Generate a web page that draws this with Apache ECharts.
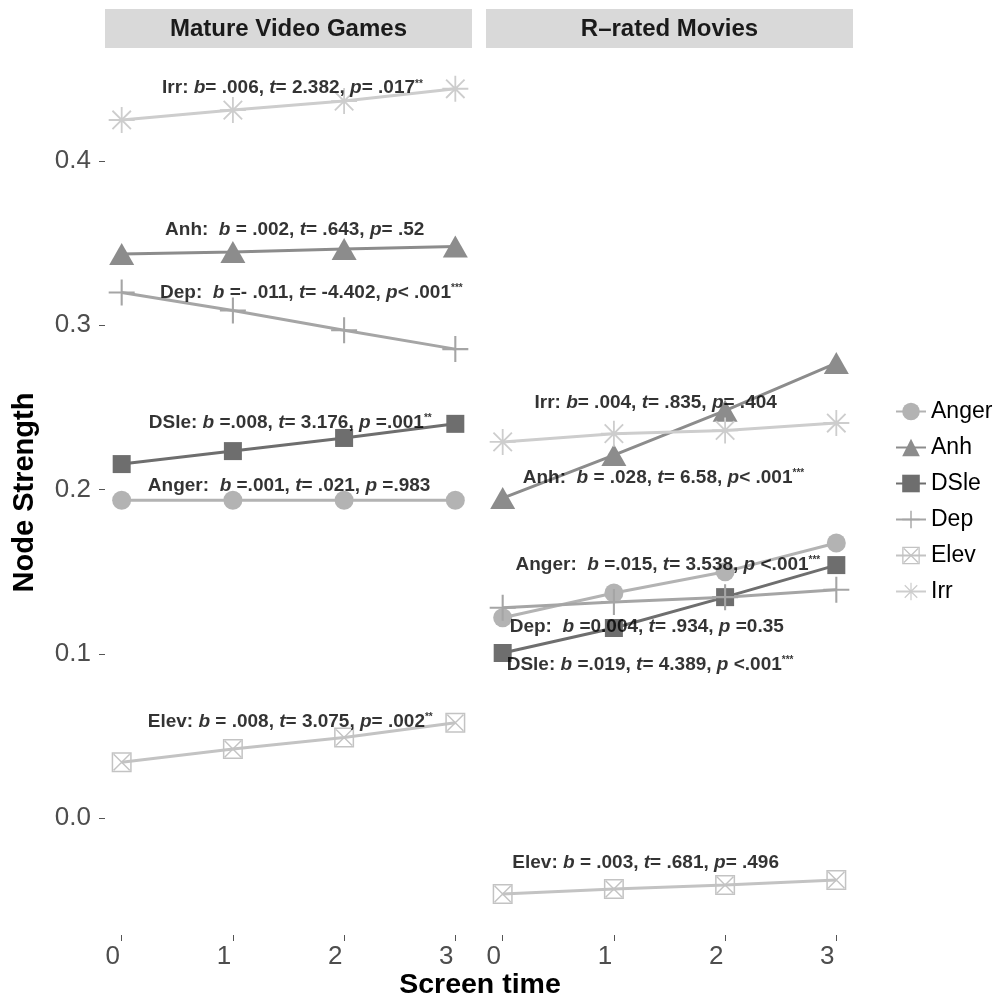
<!DOCTYPE html>
<html>
<head>
<meta charset="utf-8">
<script src="https://cdn.jsdelivr.net/npm/echarts@6/dist/echarts.min.js"></script>
<style>
  html, body { margin: 0; padding: 0; background: #fff; }
  #chart { width: 1008px; height: 999px; }
</style>
</head>
<body>
<div id="chart"></div>
<script>
// screen time levels (x) and node names
const screenTime = [0, 1, 2, 3];
const nodes = ["Anger", "Anh", "DSle", "Dep", "Elev", "Irr"];
const yTicks = [0, 0.1, 0.2, 0.3, 0.4];

// Mature Video Games panel
const gamesAnger = [0.1935, 0.1935, 0.1935, 0.1935];
const gamesAnh = [0.3434, 0.3446, 0.3464, 0.348];
const gamesDSle = [0.2155, 0.2234, 0.2314, 0.240];
const gamesDep = [0.320, 0.309, 0.297, 0.2855];
const gamesElev = [0.034, 0.042, 0.049, 0.058];
const gamesIrr = [0.425, 0.431, 0.4365, 0.444];

// R-rated Movies panel
const moviesAnger = [0.122, 0.137, 0.150, 0.1675];
const moviesAnh = [0.1948, 0.221, 0.248, 0.277];
const moviesDSle = [0.1005, 0.1157, 0.1345, 0.154];
const moviesDep = [0.128, 0.1315, 0.1345, 0.139];
const moviesElev = [-0.0463, -0.0432, -0.0408, -0.0377];
const moviesIrr = [0.229, 0.234, 0.236, 0.2405];

// regression notes (text) and where they sit, in data units
const gamesNotes = [
  "Irr: {i|b}= .006, {i|t}= 2.382, {i|p}= .017{s|**}",
  "Anh:  {i|b} = .002, {i|t}= .643, {i|p}= .52",
  "Dep:  {i|b} =- .011, {i|t}= -4.402, {i|p}< .001{s|***}",
  "DSle: {i|b} =.008, {i|t}= 3.176, {i|p} =.001{s|**}",
  "Anger:  {i|b} =.001, {i|t}= .021, {i|p} =.983",
  "Elev: {i|b} = .008, {i|t}= 3.075, {i|p}= .002{s|**}"
];
const gamesNoteX = [1.54, 1.56, 1.71, 1.52, 1.51, 1.52];
const gamesNoteY = [0.444, 0.358, 0.3197, 0.2405, 0.2021, 0.0584];

const moviesNotes = [
  "Irr: {i|b}= .004, {i|t}= .835, {i|p}= .404",
  "Anh:  {i|b} = .028, {i|t}= 6.58, {i|p}< .001{s|***}",
  "Anger:  {i|b} =.015, {i|t}= 3.538, {i|p} <.001{s|***}",
  "Dep:  {i|b} =0.004, {i|t}= .934, {i|p} =0.35",
  "DSle: {i|b} =.019, {i|t}= 4.389, {i|p} <.001{s|***}",
  "Elev: {i|b} = .003, {i|t}= .681, {i|p}= .496"
];
const moviesNoteX = [1.38, 1.45, 1.49, 1.30, 1.33, 1.29];
const moviesNoteY = [0.2527, 0.207, 0.154, 0.1163, 0.0932, -0.0274];

const FONT = "Liberation Sans";

// marker look per node
const style = {
  Anger: { color: "#b3b3b3", symbol: "circle", size: 19 },
  Anh: { color: "#8c8c8c", symbol: "triangle", size: [25, 22] },
  DSle: { color: "#6e6e6e", symbol: "rect", size: 18 },
  Dep: {
    color: "#a5a5a5",
    symbol: "path://M9.2,0 L10.8,0 L10.8,9.2 L20,9.2 L20,10.8 L10.8,10.8 L10.8,20 L9.2,20 L9.2,10.8 L0,10.8 L0,9.2 L9.2,9.2 Z",
    size: 26
  },
  Elev: {
    color: "#c3c3c3",
    symbol: "path://M0,0 L20,0 L20,20 L0,20 Z M1.5,1.5 L1.5,18.5 L18.5,18.5 L18.5,1.5 Z M1.5,2.5 L2.5,1.5 L18.5,17.5 L17.5,18.5 Z M17.5,1.5 L18.5,2.5 L2.5,18.5 L1.5,17.5 Z",
    size: 20
  },
  Irr: {
    color: "#cdcdcd",
    symbol: "path://M9.3,0 L10.7,0 L10.7,9.3 L20,9.3 L20,10.7 L10.7,10.7 L10.7,20 L9.3,20 L9.3,10.7 L0,10.7 L0,9.3 L9.3,9.3 Z M2.4,3.4 L3.4,2.4 L17.6,16.6 L16.6,17.6 Z M16.6,2.4 L17.6,3.4 L3.4,17.6 L2.4,16.6 Z",
    size: 26
  }
};

const panels = [
  { Anger: gamesAnger, Anh: gamesAnh, DSle: gamesDSle, Dep: gamesDep, Elev: gamesElev, Irr: gamesIrr },
  { Anger: moviesAnger, Anh: moviesAnh, DSle: moviesDSle, Dep: moviesDep, Elev: moviesElev, Irr: moviesIrr }
];
const notes = [
  { text: gamesNotes, x: gamesNoteX, y: gamesNoteY },
  { text: moviesNotes, x: moviesNoteX, y: moviesNoteY }
];

const series = [];
panels.forEach(function (panel, p) {
  nodes.forEach(function (name) {
    const s = style[name];
    series.push({
      name: name,
      type: "line",
      xAxisIndex: p,
      yAxisIndex: p,
      data: screenTime.map(function (x, i) { return [x, panel[name][i]]; }),
      symbol: s.symbol,
      symbolSize: s.size,
      showAllSymbol: true,
      color: s.color,
      lineStyle: { width: 3, color: s.color },
      itemStyle: { color: s.color, opacity: 1 },
      emphasis: { disabled: true },
      animation: false,
      z: 2
    });
  });
  // text notes on top of the lines
  series.push({
    type: "scatter",
    xAxisIndex: p,
    yAxisIndex: p,
    silent: true,
    symbolSize: 1,
    itemStyle: { color: "rgba(0,0,0,0)" },
    z: 5,
    data: notes[p].text.map(function (t, i) {
      return { value: [notes[p].x[i], notes[p].y[i]], label: { formatter: t } };
    }),
    label: {
      show: true,
      position: [0, 0],
      align: "center",
      verticalAlign: "middle",
      fontFamily: FONT,
      fontSize: 19,
      fontWeight: "bold",
      color: "#000",
      textBorderWidth: 0,
      rich: {
        i: { fontFamily: FONT, fontSize: 19, fontWeight: "bold", fontStyle: "italic", color: "#000" },
        s: { fontFamily: FONT, fontSize: 10, fontWeight: "bold", color: "#000", verticalAlign: "top", lineHeight: 19 }
      }
    },
    animation: false
  });
});

const grids = [
  { left: 105, top: 50, width: 367, height: 885 },
  { left: 486, top: 50, width: 367, height: 885 }
];

function xAxisFor(i) {
  return {
    type: "value",
    gridIndex: i,
    min: -0.15,
    max: 3.15,
    axisLine: { show: false, onZero: false },
    splitLine: { show: false },
    axisTick: { show: true, length: 6, customValues: screenTime, lineStyle: { color: "#555", width: 1 } },
    axisLabel: {
      customValues: screenTime,
      fontFamily: FONT,
      fontSize: 26,
      color: "#4d4d4d",
      margin: 9,
      padding: [0, 18, 0, 0]
    }
  };
}

function yAxisFor(i) {
  return {
    type: "value",
    gridIndex: i,
    min: -0.0712,
    max: 0.4676,
    axisLine: { show: false, onZero: false },
    splitLine: { show: false },
    axisTick: { show: i === 0, length: 6, customValues: yTicks, lineStyle: { color: "#555", width: 1 } },
    axisLabel: {
      show: i === 0,
      customValues: yTicks,
      fontFamily: FONT,
      fontSize: 26,
      color: "#4d4d4d",
      margin: 14,
      formatter: function (v) { return v.toFixed(1); }
    },
    name: i === 0 ? "Node Strength" : "",
    nameLocation: "middle",
    nameRotate: 90,
    nameGap: 66,
    nameTextStyle: { fontFamily: FONT, fontSize: 29, fontWeight: "bold", color: "#000" }
  };
}

const chart = echarts.init(document.getElementById("chart"), null, { renderer: "canvas" });
chart.setOption({
  backgroundColor: "#fff",
  animation: false,
  grid: grids,
  xAxis: [xAxisFor(0), xAxisFor(1)],
  yAxis: [yAxisFor(0), yAxisFor(1)],
  legend: {
    data: nodes,
    orient: "vertical",
    left: 890,
    top: 395,
    itemWidth: 30,
    itemHeight: 22,
    itemGap: 13,
    selectedMode: false,
    textStyle: { fontFamily: FONT, fontSize: 23, color: "#000", lineHeight: 22 }
  },
  graphic: [
    { type: "rect", left: 105, top: 9, shape: { width: 367, height: 39 }, style: { fill: "#d9d9d9" } },
    { type: "rect", left: 486, top: 9, shape: { width: 367, height: 39 }, style: { fill: "#d9d9d9" } },
    {
      type: "text", x: 288.5, y: 29,
      style: { text: "Mature Video Games", fontFamily: FONT, fontSize: 24, fontWeight: "bold", fill: "#1a1a1a", align: "center", verticalAlign: "middle" }
    },
    {
      type: "text", x: 669.5, y: 29,
      style: { text: "R\u2013rated Movies", fontFamily: FONT, fontSize: 24, fontWeight: "bold", fill: "#1a1a1a", align: "center", verticalAlign: "middle" }
    },
    {
      type: "text", x: 480, y: 985,
      style: { text: "Screen time", fontFamily: FONT, fontSize: 28.5, fontWeight: "bold", fill: "#000", align: "center", verticalAlign: "middle" }
    }
  ],
  series: series
});
</script>
</body>
</html>
